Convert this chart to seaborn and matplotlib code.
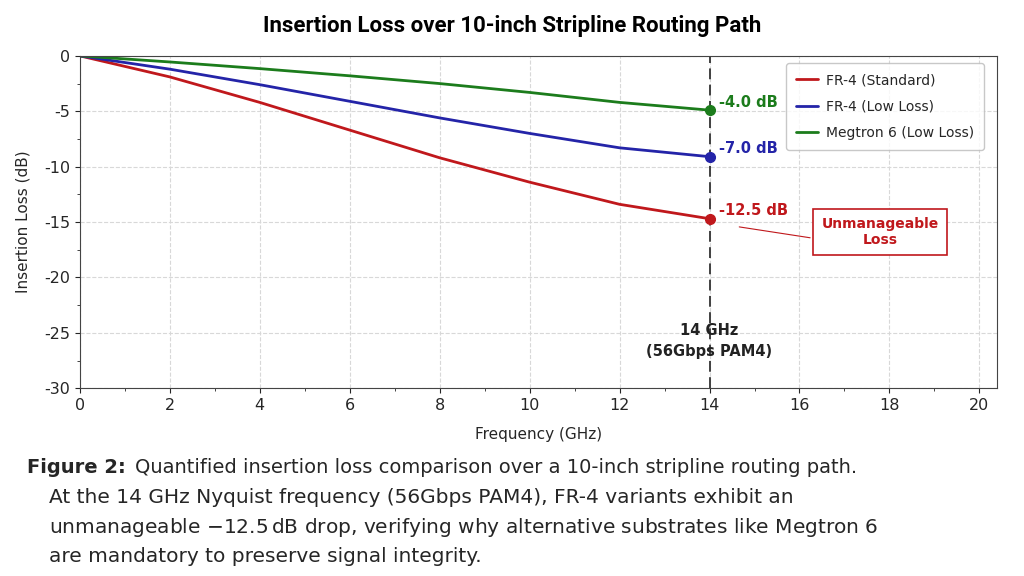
import pandas as pd
import seaborn as sns
import matplotlib.pyplot as plt
import numpy as np

# data
freq = [0, 2, 4, 6, 8, 10, 12, 14]
fr4_std = [0, -1.9, -4.2, -6.7, -9.2, -11.4, -13.4, -14.7]
fr4_low = [0, -1.2, -2.6, -4.1, -5.6, -7.0, -8.3, -9.1]
megtron6 = [0, -0.55, -1.15, -1.8, -2.5, -3.3, -4.2, -4.9]
series = ['FR-4 (Standard)', 'FR-4 (Low Loss)', 'Megtron 6 (Low Loss)']
colors = ['#c0181c', '#2424a8', '#1c7c1c']
end_labels = ['-12.5 dB', '-7.0 dB', '-4.0 dB']
nyquist = 14

df = pd.DataFrame({
    'Frequency': freq * 3,
    'Loss': fr4_std + fr4_low + megtron6,
    'Material': np.repeat(series, len(freq)),
})

sns.set_style('ticks')
plt.rcParams['font.family'] = ['DejaVu Sans']
plt.rcParams['axes.unicode_minus'] = False
fig = plt.figure(figsize=(10.24, 5.76), dpi=100)
ax = fig.add_axes([0.078, 0.326, 0.896, 0.577])

sns.lineplot(data=df, x='Frequency', y='Loss', hue='Material', palette=colors,
             hue_order=series, linewidth=2, ax=ax)

ax.axvline(nyquist, color='#333333', linestyle=(0, (6, 3)), linewidth=1.3, zorder=1)

# end markers + labels
ends = [fr4_std[-1], fr4_low[-1], megtron6[-1]]
for val, c, lab in zip(ends, colors, end_labels):
    ax.plot(nyquist, val, 'o', color=c, markersize=7, zorder=5)
    ax.text(nyquist + 0.2, val + 0.7, lab, color=c, fontsize=10.5,
            fontweight='bold', va='center', ha='left')

ax.annotate('Unmanageable\nLoss', xy=(14.6, -15.4), xytext=(17.8, -15.9),
            fontsize=10, color='#c0181c', fontweight='bold', ha='center', va='center',
            bbox=dict(boxstyle='square,pad=0.6', fc='white', ec='#c0181c', lw=1.2),
            arrowprops=dict(arrowstyle='-', color='#c0181c', lw=0.8, relpos=(0, 0.25)))

ax.text(nyquist, -25.7, '14 GHz\n(56Gbps PAM4)', ha='center', va='center',
        fontsize=10.5, fontweight='bold', color='#222222', linespacing=1.5)

ax.set_xlim(0, 20.4)
ax.set_ylim(-30, 0)
ax.set_xticks(range(0, 21, 2))
ax.set_yticks(range(-30, 1, 5))
ax.set_xticks(range(1, 21, 2), minor=True)
ax.set_yticks(np.arange(-27.5, 0, 5), minor=True)
ax.tick_params(labelsize=11.5)
ax.grid(True, linestyle='--', color='#d8d8d8', linewidth=0.8)
ax.set_xlabel('Frequency (GHz)', fontsize=11, labelpad=10)
ax.set_ylabel('Insertion Loss (dB)', fontsize=11, labelpad=10)
for s in ax.spines.values():
    s.set_color('#444444')

ax.legend(loc='upper right', fontsize=10, frameon=True, fancybox=True,
          edgecolor='#bbbbbb', borderpad=0.7, labelspacing=0.9, handlelength=1.6,
          handletextpad=0.6, borderaxespad=0.3, bbox_to_anchor=(0.99, 0.99))

fig.text(0.5, 0.955, 'Insertion Loss over 10-inch Stripline Routing Path',
         ha='center', va='center', fontsize=16, fontweight='bold', color='black',
         family=['Roboto', 'DejaVu Sans'])

cap = 14.5
fig.text(0.026, 0.189, 'Figure 2:', fontsize=cap - 0.5, fontweight='bold', ha='left', va='center')
fig.text(0.132, 0.189, 'Quantified insertion loss comparison over a 10-inch stripline routing path.',
         fontsize=cap - 0.5, ha='left', va='center')
fig.text(0.048, 0.137, 'At the 14 GHz Nyquist frequency (56Gbps PAM4), FR-4 variants exhibit an',
         fontsize=cap, ha='left', va='center')
fig.text(0.048, 0.085, r'unmanageable $-12.5\,\mathrm{dB}$ drop, verifying why alternative substrates like Megtron 6',
         fontsize=cap, ha='left', va='center')
fig.text(0.048, 0.033, 'are mandatory to preserve signal integrity.',
         fontsize=cap, ha='left', va='center')

fig.savefig('out.png', dpi=100, facecolor='white')
